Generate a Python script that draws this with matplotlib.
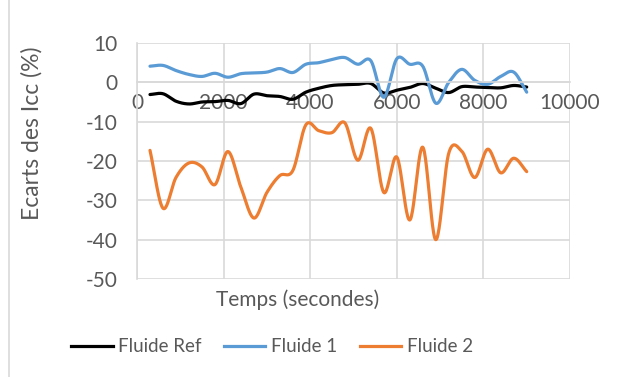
import numpy as np
import matplotlib
matplotlib.use("Agg")
import matplotlib.pyplot as plt
from matplotlib.lines import Line2D

plt.rcParams['font.family'] = ['Lato', 'DejaVu Sans']
plt.rcParams['axes.unicode_minus'] = False

# time (s) and deviations (%)
temps = [300, 600, 900, 1200, 1500, 1800, 2100, 2400, 2700, 3000,
         3300, 3600, 3900, 4200, 4500, 4800, 5100, 5400, 5700, 6000,
         6300, 6600, 6900, 7200, 7500, 7800, 8100, 8400, 8700, 9000]

fluide_ref = [-3.1, -2.9, -4.8, -5.5, -5.0, -4.9, -4.6, -5.4, -3.0, -3.4,
              -3.6, -4.3, -2.5, -1.5, -0.8, -0.6, -0.5, -0.3, -2.7, -2.0,
              -1.3, -0.3, -1.5, -2.6, -1.1, -1.2, -1.3, -1.4, -0.8, -1.2]

fluide_1 = [4.1, 4.3, 3.0, 2.0, 1.5, 2.3, 1.3, 2.2, 2.4, 2.6,
            3.5, 2.5, 4.6, 5.0, 5.8, 6.3, 4.6, 5.5, -3.8, 6.0,
            4.6, 4.1, -5.3, 0.0, 3.3, 0.5, -0.5, 1.5, 2.6, -2.5]

fluide_2 = [-17.3, -32.0, -24.2, -20.5, -21.5, -26.0, -17.6, -26.7, -34.5, -28.0,
            -23.7, -22.4, -10.8, -12.3, -12.8, -10.3, -19.8, -11.7, -28.0, -19.0,
            -35.0, -16.5, -40.0, -18.0, -17.5, -24.2, -17.0, -23.0, -19.3, -22.7]

series_names = ["Fluide Ref", "Fluide 1", "Fluide 2"]
colors = ["#000000", "#5B9BD5", "#ED7D31"]
xticks = [0, 2000, 4000, 6000, 8000, 10000]
yticks = [10, 0, -10, -20, -30, -40, -50]


def smooth(x, y, n=24):
    # Excel-like smoothed line (Catmull-Rom through the points)
    x = np.asarray(x, float)
    y = np.asarray(y, float)
    px = np.concatenate([[2 * x[0] - x[1]], x, [2 * x[-1] - x[-2]]])
    py = np.concatenate([[2 * y[0] - y[1]], y, [2 * y[-1] - y[-2]]])
    xs, ys = [], []
    t = np.linspace(0, 1, n, endpoint=False)
    for i in range(1, len(px) - 2):
        for arr, out in ((px, xs), (py, ys)):
            p0, p1, p2, p3 = arr[i - 1], arr[i], arr[i + 1], arr[i + 2]
            out.extend(0.5 * ((2 * p1) + (-p0 + p2) * t
                              + (2 * p0 - 5 * p1 + 4 * p2 - p3) * t ** 2
                              + (-p0 + 3 * p1 - 3 * p2 + p3) * t ** 3))
    xs.append(x[-1])
    ys.append(y[-1])
    return xs, ys


grey = "#d9d9d9"
txt = "#595959"

fig = plt.figure(figsize=(6.2, 3.77), dpi=100)
ax = fig.add_axes([137 / 620, 1 - 279 / 377, 433 / 620, 236 / 377])

for data, name, c in zip([fluide_ref, fluide_1, fluide_2], series_names, colors):
    sx, sy = smooth(temps, data)
    ax.plot(sx, sy, color=c, lw=2.3, label=name, solid_capstyle='round')

ax.set_xlim(0, 10000)
ax.set_ylim(-50, 10)
ax.set_xticks(xticks)
ax.set_yticks(yticks)
ax.grid(True, color=grey, lw=1.2)
ax.set_axisbelow(True)

for s in ['top', 'right']:
    ax.spines[s].set_visible(False)
ax.spines['left'].set_color(grey)
ax.spines['left'].set_linewidth(1.2)
ax.spines['bottom'].set_position(('data', 0))
ax.spines['bottom'].set_color(grey)
ax.spines['bottom'].set_linewidth(1.2)

ax.tick_params(axis='both', length=0, labelsize=15, labelcolor=txt)
ax.tick_params(axis='y', pad=14)
ax.tick_params(axis='x', pad=8)

fig.text(298 / 620, 1 - 300 / 377, "Temps (secondes)", ha='center', va='center',
         fontsize=15, color=txt)
fig.text(32 / 620, 1 - 133 / 377, "Ecarts des Icc (%)", ha='center', va='center',
         rotation=90, fontsize=16.5, color=txt)

handles = [Line2D([0], [0], color=c, lw=2.3) for c in colors]
fig.legend(handles, series_names, loc='center', bbox_to_anchor=(272 / 620, 1 - 347 / 377),
           ncol=3, frameon=False, fontsize=13.5, handlelength=2.2, handletextpad=0.3,
           columnspacing=1.2, labelcolor=txt)

fig.add_artist(Line2D([9 / 620, 9 / 620], [0, 1], color=grey, lw=1.2,
                      transform=fig.transFigure))

fig.savefig("out.png", dpi=100)
